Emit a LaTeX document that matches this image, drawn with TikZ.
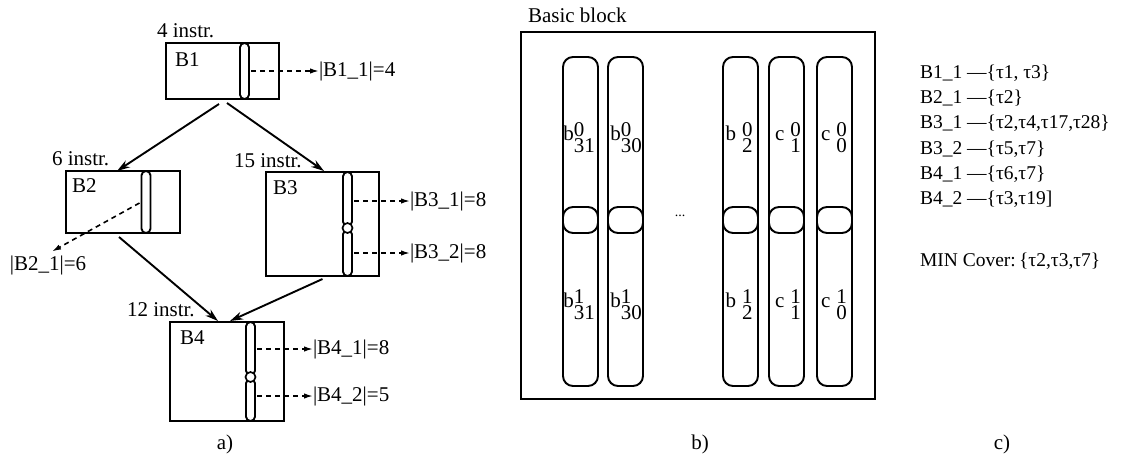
\documentclass[tikz,border=0pt]{standalone}
\usepackage{fontspec}
\setmainfont{Liberation Serif}
\usetikzlibrary{arrows.meta,calc}
\newcommand\stk[3]{#1\rlap{\raisebox{4pt}{#2}}\raisebox{-12pt}{#3}}
\begin{document}
\begin{tikzpicture}[x=1pt,y=-1pt,
  every node/.style={font=\fontsize{21}{25}\selectfont, inner sep=0pt, outer sep=0pt},
  listtext/.style={anchor=west, font=\fontsize{19.5}{23}\selectfont},
  blk/.style={draw, line width=2pt},
  bar/.style={draw, line width=1.9pt, fill=white, rounded corners=4.4pt, minimum width=9pt},
  joint/.style={draw, line width=1.7pt, fill=white, circle, minimum size=10pt},
  arr/.style={-{Stealth[length=13pt,width=8pt]}, line width=1.9pt},
  darr/.style={-{Latex[length=9pt,width=5.5pt]}, line width=1.6pt, dash pattern=on 5pt off 4pt},
  col/.style={draw, line width=1.9pt, rounded corners=10pt, minimum width=35pt}]
\useasboundingbox (0,0) rectangle (1133,459);

% ---------- a) ----------
\node[blk, minimum width=113pt, minimum height=56pt] (B1) at (222.5,71) {};
\node[blk, minimum width=114pt, minimum height=62pt] (B2) at (123,202) {};
\node[blk, minimum width=113pt, minimum height=104pt] (B3) at (322.5,224) {};
\node[blk, minimum width=114pt, minimum height=99pt] (B4) at (227,371.5) {};

\node[bar, minimum height=56pt] (B1bar) at (244.5,71) {};
\node[bar, minimum height=62pt] (B2bar) at (146,202) {};
\node[bar, minimum height=54pt] (B3bara) at (347.5,199) {};
\node[bar, minimum height=46pt] (B3barb) at (347.5,253) {};
\node[joint] (B3j) at (347.5,228) {};
\node[bar, minimum height=53pt] (B4bara) at (250.5,348.5) {};
\node[bar, minimum height=42pt] (B4barb) at (250.5,400) {};
\node[joint] (B4j) at (250.5,377) {};

\node[anchor=west] (n1) at (175,60) {B1};
\node[anchor=west] (n2) at (72,186) {B2};
\node[anchor=west] (n3) at (273,188) {B3};
\node[anchor=west] (n4) at (180,338) {B4};

\node[anchor=west] (i1) at (157,31) {4 instr.};
\node[anchor=west] (i2) at (52,159) {6 instr.};
\node[anchor=west] (i3) at (234,161) {15 instr.};
\node[anchor=west] (i4) at (127,310) {12 instr.};

\node[anchor=west] (L11) at (319,71) {|B1\_1|=4};
\node[anchor=west] (L31) at (410,201) {|B3\_1|=8};
\node[anchor=west] (L32) at (410,253) {|B3\_2|=8};
\node[anchor=west] (L41) at (313,349) {|B4\_1|=8};
\node[anchor=west] (L42) at (313,396) {|B4\_2|=5};
\node (L21) at (48,265) {|B2\_1|=6};

\draw[arr] ($(B1.south)+(-3.5,5)$) -- ($(B2.north)+(-6,0)$);
\draw[arr] ($(B1.south)+(4.5,4)$) -- ($(B3.north)+(1.5,-1)$);
\draw[arr] ($(B2.south)+(-4,4)$) -- ($(B4.north)+(-9,-1)$);
\draw[arr] ($(B3.south)+(0,3)$) -- ($(B4.north)+(3,-1)$);

\draw[darr] ($(B1bar.east)+(2,0)$) -- (L11.west);
\draw[darr] ($(L31.west -| B3bara.east)+(2,0)$) -- (L31.west);
\draw[darr] ($(L32.west -| B3barb.east)+(2,0)$) -- (L32.west);
\draw[darr] ($(L41.west -| B4bara.east)+(2,0)$) -- (L41.west);
\draw[darr] ($(L42.west -| B4barb.east)+(2,0)$) -- (L42.west);
\draw[darr] ($(B2bar.west)+(-2,1)$) -- ($(L21.north)+(4,-4)$);

\node (capa) at (225,444) {a)};

% ---------- b) ----------
\node[anchor=west] (BBl) at (528,15) {Basic block};
\node[blk, minimum width=354pt, minimum height=367pt] (BB) at (698,215.5) {};
\foreach \n/\x in {a/580.5, b/625.5, c/740.5, d/786.5, e/834.5} {
  \node[col, minimum height=176pt] (U\n) at (\x,145) {};
  \node[col, minimum height=179pt] (D\n) at (\x,296.5) {};
}
\node (tUa) at (579,138) {\stk{b}{0}{31}};
\node (tUb) at (626,138) {\stk{b}{0}{30}};
\node (tUc) at (739,138) {b\hspace{6pt}\stk{}{0}{2}};
\node (tUd) at (788,138) {c\hspace{6pt}\stk{}{0}{1}};
\node (tUe) at (834,138) {c\hspace{6pt}\stk{}{0}{0}};
\node (tDa) at (579,305) {\stk{b}{1}{31}};
\node (tDb) at (626,305) {\stk{b}{1}{30}};
\node (tDc) at (739,305) {b\hspace{6pt}\stk{}{1}{2}};
\node (tDd) at (788,305) {c\hspace{6pt}\stk{}{1}{1}};
\node (tDe) at (834,305) {c\hspace{6pt}\stk{}{1}{0}};
\node[font=\fontsize{14}{16}\selectfont] (dots) at (680,216) {...};

\node (capb) at (700,444) {b)};

% ---------- c) ----------
\node[listtext] (c1) at (920,73) {B1\_1 —\{τ1, τ3\}};
\node[listtext] (c2) at (920,98) {B2\_1 —\{τ2\}};
\node[listtext] (c3) at (920,123) {B3\_1 —\{τ2,τ4,τ17,τ28\}};
\node[listtext] (c4) at (920,149) {B3\_2 —\{τ5,τ7\}};
\node[listtext] (c5) at (920,174) {B4\_1 —\{τ6,τ7\}};
\node[listtext] (c6) at (920,199) {B4\_2 —\{τ3,τ19]};
\node[listtext] (c7) at (920,261) {MIN Cover:\,\{τ2,τ3,τ7\}};

\node (capc) at (1002,444) {c)};
\end{tikzpicture}
\end{document}
